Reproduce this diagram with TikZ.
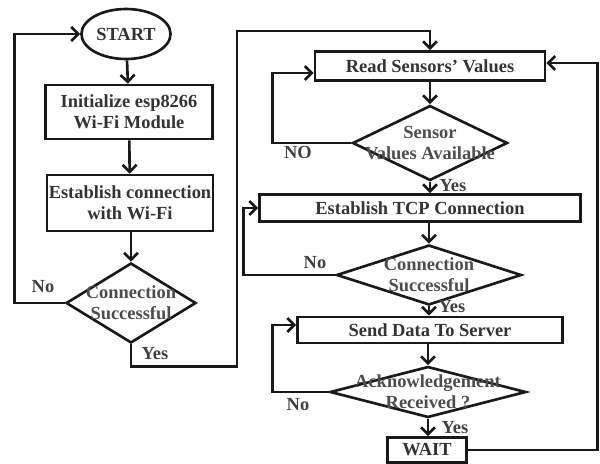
\documentclass[tikz,border=0pt]{standalone}
\usepackage{fontspec}
\setmainfont{Liberation Serif}
\usetikzlibrary{shapes.geometric,arrows.meta}

\tikzset{
  flow/.style={draw=black!90, line width=1.5pt, font=\fontsize{10.5}{12}\selectfont\bfseries, text=black!80, align=center, inner sep=1pt},
  procbox/.style={flow, rectangle},
  termbox/.style={flow, ellipse},
  decbox/.style={flow, diamond, inner sep=0pt},
  dtext/.style={font=\fontsize{10.5}{12}\selectfont\bfseries, text=black!70, align=center, inner sep=0pt},
  answer/.style={font=\fontsize{10.5}{12}\selectfont\bfseries, text=black!75, inner sep=0pt},
  link/.style={draw=black!90, line width=1.5pt, ->}
}

\begin{document}
\begin{tikzpicture}[x=0.02cm,y=-0.02cm, >={Straight Barb[length=4pt,width=8pt]}]
\useasboundingbox (0,0) rectangle (600,464);
% left column
\node[termbox, minimum width=1.64cm, minimum height=1cm] (start) at (126,34) {START};
\node[procbox, minimum width=3.34cm, minimum height=1.08cm] (init) at (129,112) {Initialize esp8266\\Wi-Fi Module};
\node[procbox, minimum width=3.28cm, minimum height=1.12cm] (wifi) at (130,203) {Establish connection\\with Wi-Fi};
\node[decbox, minimum width=2.6cm, minimum height=1.6cm,
  label={[dtext]center:Connection\\Successful}] (chkwifi) at (131,303) {};
% right column
\node[procbox, minimum width=4.6cm, minimum height=0.58cm] (read) at (430,66) {Read Sensors' Values};
\node[decbox, minimum width=3.1cm, minimum height=1.5cm,
  label={[dtext]center:Sensor\\Values Available}] (chksens) at (430,143) {};
\node[procbox, minimum width=6.42cm, minimum height=0.54cm] (tcp) at (420,208) {Establish TCP Connection};
\node[decbox, minimum width=3.7cm, minimum height=1.2cm,
  label={[dtext]center:Connection\\Successful}] (chktcp) at (429,275) {};
\node[procbox, minimum width=5.3cm, minimum height=0.52cm] (send) at (430,330) {Send Data To Server};
\node[decbox, minimum width=3.92cm, minimum height=1.02cm,
  label={[dtext]center:Acknowledgement\\Received ?}] (chkack) at (428,392) {};
\node[procbox, minimum width=1.58cm, minimum height=0.5cm] (wait) at (427,450) {WAIT};

% answers
\node[answer] (no1) at (43,287) {No};
\node[answer] (yes1) at (155,354) {Yes};
\node[answer] (no2) at (298,152) {NO};
\node[answer] (yes2) at (453,186) {Yes};
\node[answer] (no3) at (315,263) {No};
\node[answer] (yes3) at (452,307) {Yes};
\node[answer] (no4) at (298,405) {No};
\node[answer] (yes4) at (455,428) {Yes};

% links
\draw[link] (start) -- (init);
\draw[link] (init) -- (wifi);
\draw[link] (wifi.south -| chkwifi) -- (chkwifi);
\draw[link] (chkwifi.west) -- ++(-50,0) |- (start.west);
\draw[link] (chkwifi.south) -- ++(0,22) -- ++(106,0) |- (237,31) -| (read.north);
\draw[link] (read) -- (chksens);
\draw[link] (chksens.west) -- ++(-79,0) |- ([yshift=-0.14cm]read.west);
\draw[link] (chksens.south) -- (tcp.north -| chksens);
\draw[link] (tcp.south -| chktcp) -- (chktcp);
\draw[link] (chktcp.west) -- ++(-92,0) |- (tcp.west);
\draw[link] (chktcp.south) -- (send.north -| chktcp);
\draw[link] (send.south -| chkack) -- (chkack);
\draw[link] (chkack.west) -- ++(-56,0) |- ([yshift=0.1cm]send.west);
\draw[link] (chkack.south) -- (wait.north -| chkack);
\draw[link] (wait.east) -- ++(130,0) |- ([yshift=0.06cm]read.east);
\end{tikzpicture}
\end{document}
